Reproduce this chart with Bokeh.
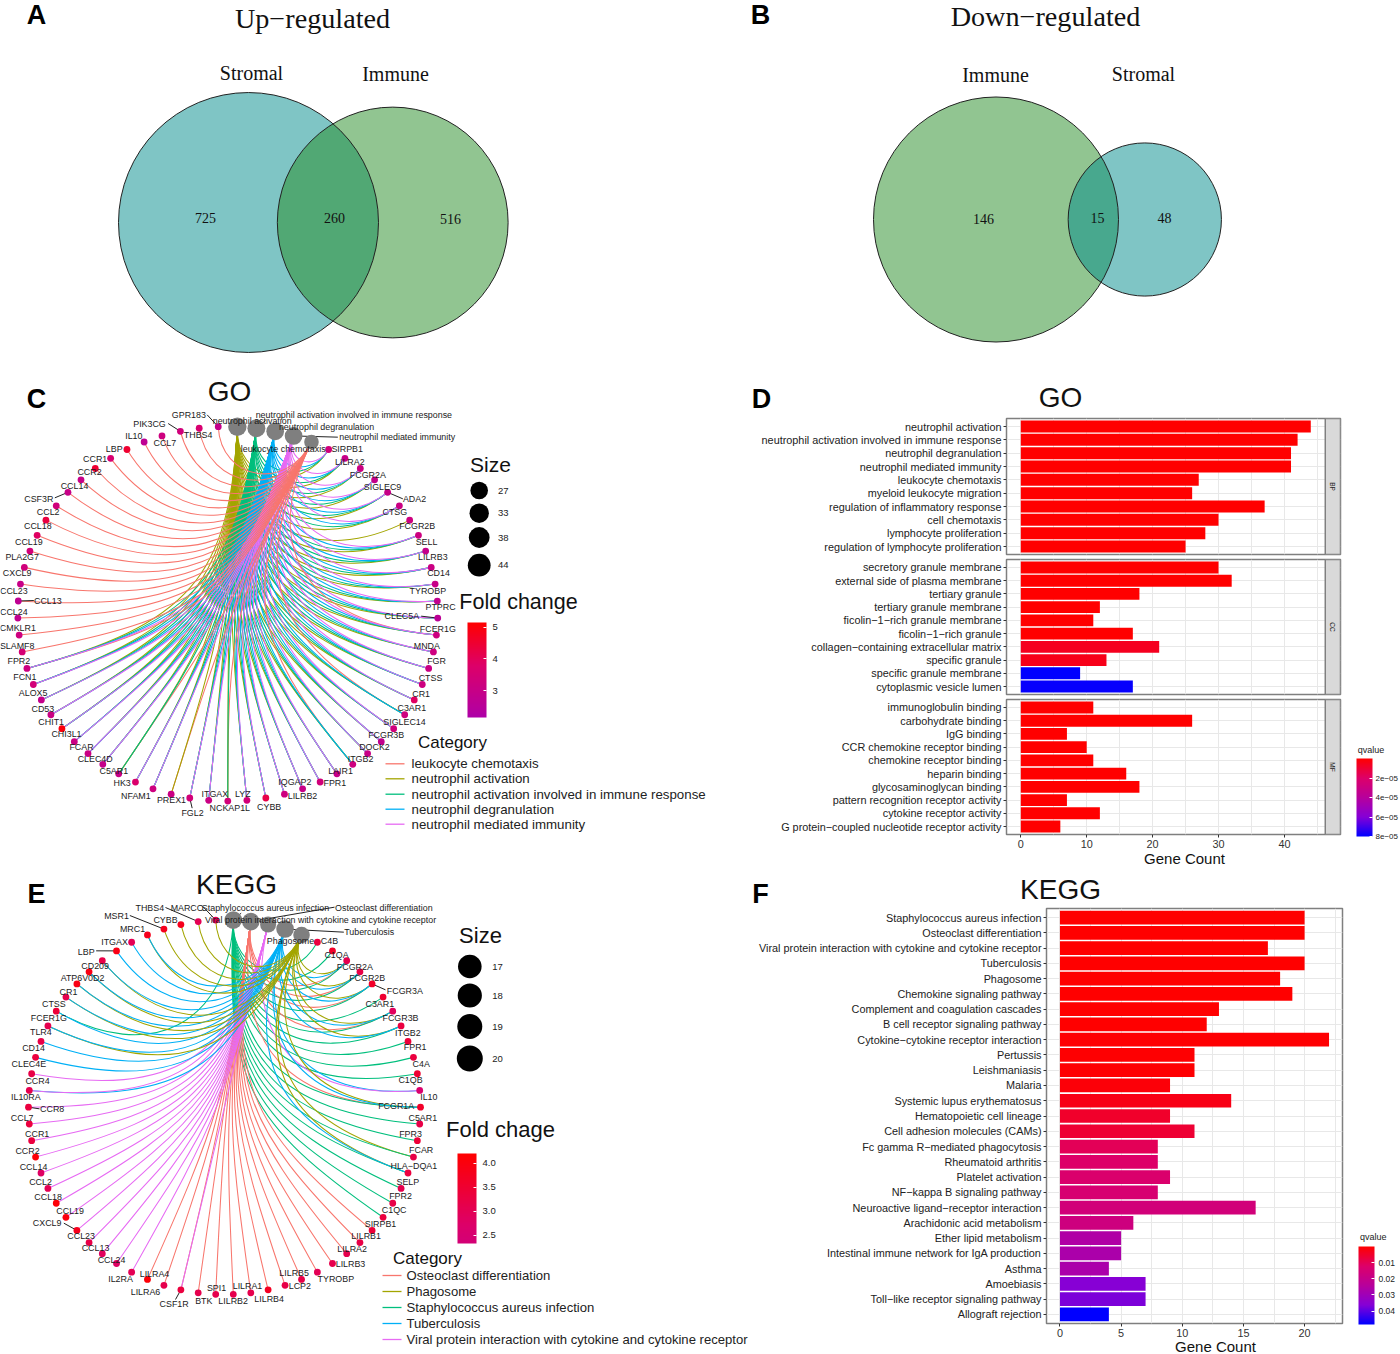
import math
from bokeh.plotting import figure
from bokeh.layouts import column, row
from bokeh.models import (Range1d, FactorRange, LinearColorMapper, ColorBar, FixedTicker, AllLabels,
                          ColumnDataSource, PrintfTickFormatter)
from bokeh.transform import transform
from bokeh.core.properties import value
from bokeh.embed import file_html
from bokeh.resources import INLINE

# ---------------- data ----------------
VENN_A = {"left": "Stromal", "right": "Immune", "only_left": 725, "both": 260, "only_right": 516}
VENN_B = {"left": "Immune", "right": "Stromal", "only_left": 146, "both": 15, "only_right": 48}

GO_CATS = ["neutrophil activation", "neutrophil activation involved in immune response",
           "neutrophil degranulation", "neutrophil mediated immunity", "leukocyte chemotaxis"]
GO_CAT_SIZES = [44, 42, 41, 41, 27]
GO_GENES = ["SIRPB1", "LILRA2", "FCGR2A", "SIGLEC9", "ADA2", "CTSG", "FCGR2B", "SELL", "LILRB3", "CD14",
            "TYROBP", "PTPRC", "CLEC5A", "FCER1G", "MNDA", "FGR", "CTSS", "CR1", "C3AR1", "SIGLEC14",
            "FCGR3B", "DOCK2", "ITGB2", "LAIR1", "FPR1", "IQGAP2", "LILRB2", "CYBB", "LYZ", "NCKAP1L",
            "ITGAX", "FGL2", "PREX1", "NFAM1", "HK3", "C5AR1", "CLEC4D", "FCAR", "CHI3L1", "CHIT1",
            "CD53", "ALOX5", "FCN1", "FPR2", "SLAMF8", "CMKLR1", "CCL24", "CCL13", "CCL23", "CXCL9",
            "PLA2G7", "CCL19", "CCL18", "CCL2", "CSF3R", "CCL14", "CCR2", "CCR1", "LBP", "IL10",
            "CCL7", "PIK3CG", "THBS4", "GPR183"]
GO_FC = [3.3, 3.0, 3.1, 2.9, 3.0, 3.1, 3.2, 3.2, 2.9, 3.1,
         3.0, 2.8, 2.6, 3.2, 3.2, 3.1, 3.2, 3.9, 3.2, 3.3,
         2.8, 3.0, 3.2, 3.0, 3.3, 3.0, 3.2, 4.2, 3.4, 3.4,
         3.1, 3.4, 3.1, 3.2, 3.7, 3.0, 2.9, 3.1, 3.1, 5.0,
         3.1, 2.9, 3.4, 3.2, 3.5, 3.2, 2.8, 2.7, 3.0, 3.3,
         3.4, 3.9, 4.3, 3.3, 3.0, 3.0, 4.5, 3.6, 4.5, 2.7,
         3.2, 3.3, 3.6, 2.9]
GO_LEUKO_ONLY = ["GPR183", "THBS4", "CCL7", "PIK3CG", "IL10", "LBP", "CCR1", "CCR2", "CCL14", "CSF3R",
                 "CCL2", "CCL18", "CCL19", "PLA2G7", "CXCL9", "CCL23", "CCL13", "CCL24", "CMKLR1", "SLAMF8"]
GO_LEUKO_ALSO = ["FPR2", "C5AR1", "C3AR1", "ITGB2", "FCER1G", "PREX1", "NCKAP1L"]
GO_NOT_INVOLVED = ["FCGR2B", "PREX1"]
GO_NOT_DEGRAN = ["FCGR2B", "PREX1", "C5AR1", "NCKAP1L"]
GO_NOT_MEDIATED = ["FCGR2B", "PREX1", "C5AR1", "NCKAP1L", "C3AR1", "ITGB2"]
GO_LEGEND = ["leukocyte chemotaxis", "neutrophil activation", "neutrophil activation involved in immune response",
             "neutrophil degranulation", "neutrophil mediated immunity"]
GO_SIZE_LEGEND = [27, 33, 38, 44]

KEGG_CATS = ["Staphylococcus aureus infection", "Osteoclast differentiation",
             "Viral protein interaction with cytokine and cytokine receptor", "Tuberculosis", "Phagosome"]
KEGG_CAT_SIZES = [20, 20, 17, 20, 18]
KEGG_GENES = ["C4B", "C1QA", "FCGR2A", "FCGR2B", "FCGR3A", "C3AR1", "FCGR3B", "ITGB2", "FPR1", "C4A",
              "C1QB", "IL10", "FCGR1A", "C5AR1", "FPR3", "FCAR", "HLA\u2212DQA1", "SELP", "FPR2", "C1QC",
              "SIRPB1", "LILRB1", "LILRA2", "LILRB3", "TYROBP", "LILRB5", "LCP2", "LILRB4", "LILRA1", "LILRB2",
              "SPI1", "BTK", "CSF1R", "LILRA6", "LILRA4", "IL2RA", "CCL24", "CCL13", "CCL23", "CXCL9",
              "CCL19", "CCL18", "CCL2", "CCL14", "CCR2", "CCR1", "CCL7", "CCR8", "IL10RA", "CCR4",
              "CLEC4E", "CD14", "TLR4", "FCER1G", "CTSS", "CR1", "ATP6V0D2", "CD209", "LBP", "ITGAX",
              "MRC1", "MSR1", "CYBB", "THBS4", "MARCO"]
KEGG_FC = [3.3, 3.6, 3.1, 3.2, 3.6, 3.5, 2.9, 3.3, 3.4, 3.3,
           3.5, 2.6, 3.6, 3.2, 3.4, 3.2, 3.3, 3.1, 3.2, 3.3,
           3.4, 3.2, 3.1, 3.1, 3.0, 3.2, 3.2, 3.7, 3.1, 3.1,
           3.1, 3.1, 3.3, 3.1, 4.1, 3.0, 2.8, 2.9, 3.2, 3.8,
           4.0, 4.1, 3.0, 2.8, 4.1, 3.3, 3.3, 3.3, 3.1, 3.2,
           3.3, 3.2, 3.1, 3.4, 3.1, 3.9, 3.9, 3.2, 3.9, 3.0,
           3.8, 3.8, 3.8, 3.0, 3.0]
KEGG_MEMBERS = {
    "Osteoclast differentiation": ["LILRA4", "LILRA6", "SPI1", "BTK", "LILRB2", "LILRA1", "LILRB4", "LCP2", "LILRB5",
                                   "TYROBP", "LILRB3", "LILRA2", "LILRB1", "SIRPB1", "FCGR2A", "FCGR2B", "FCGR3A",
                                   "FCGR3B", "FCGR1A", "CSF1R"],
    "Phagosome": ["CYBB", "THBS4", "MARCO", "MSR1", "MRC1", "CD209", "ATP6V0D2", "CR1", "CTSS", "TLR4", "FCGR2A",
                  "FCGR2B", "FCGR3A", "FCGR3B", "ITGB2", "HLA\u2212DQA1", "FCAR", "FCGR1A"],
    "Staphylococcus aureus infection": ["C4B", "C1QA", "FCGR2A", "FCGR2B", "FCGR3A", "C3AR1", "FCGR3B", "ITGB2", "FPR1",
                                        "C4A", "C1QB", "FCGR1A", "C5AR1", "FPR3", "FCAR", "HLA\u2212DQA1", "SELP", "FPR2",
                                        "C1QC", "FCER1G"],
    "Tuberculosis": ["LBP", "ITGAX", "CR1", "FCER1G", "CTSS", "CD14", "TLR4", "CLEC4E", "IL10RA", "IL10", "ATP6V0D2",
                     "MRC1", "CD209", "FCGR2A", "FCGR2B", "FCGR3A", "FCGR3B", "ITGB2", "HLA\u2212DQA1", "FCGR1A"],
    "Viral protein interaction with cytokine and cytokine receptor": ["CCR8", "CCR4", "CCL7", "CCR1", "CCR2", "CCL14", "CCL2",
                                        "CCL18", "CCL19", "CXCL9", "CCL23", "CCL13", "CCL24", "IL2RA", "CSF1R", "IL10RA",
                                        "IL10"],
}
KEGG_LEGEND = ["Osteoclast differentiation", "Phagosome", "Staphylococcus aureus infection", "Tuberculosis",
               "Viral protein interaction with cytokine and cytokine receptor"]
KEGG_SIZE_LEGEND = [17, 18, 19, 20]

D_BP = ["neutrophil activation", "neutrophil activation involved in immune response", "neutrophil degranulation",
        "neutrophil mediated immunity", "leukocyte chemotaxis", "myeloid leukocyte migration",
        "regulation of inflammatory response", "cell chemotaxis", "lymphocyte proliferation",
        "regulation of lymphocyte proliferation"]
D_BP_N = [44, 42, 41, 41, 27, 26, 37, 30, 28, 25]
D_BP_Q = [1e-8] * 10
D_CC = ["secretory granule membrane", "external side of plasma membrane", "tertiary granule", "tertiary granule membrane",
        "ficolin\u22121\u2212rich granule membrane", "ficolin\u22121\u2212rich granule",
        "collagen\u2212containing extracellular matrix", "specific granule", "specific granule membrane",
        "cytoplasmic vesicle lumen"]
D_CC_N = [30, 32, 18, 12, 11, 17, 21, 13, 9, 17]
D_CC_Q = [1e-8, 1e-8, 1e-7, 1e-7, 2e-7, 3e-7, 6e-6, 5e-6, 8e-5, 7.9e-5]
D_MF = ["immunoglobulin binding", "carbohydrate binding", "IgG binding", "CCR chemokine receptor binding",
        "chemokine receptor binding", "heparin binding", "glycosaminoglycan binding", "pattern recognition receptor activity",
        "cytokine receptor activity", "G protein\u2212coupled nucleotide receptor activity"]
D_MF_N = [11, 26, 7, 10, 11, 16, 18, 7, 12, 6]
D_MF_Q = [1e-8] * 10

F_NAMES = ["Staphylococcus aureus infection", "Osteoclast differentiation",
           "Viral protein interaction with cytokine and cytokine receptor", "Tuberculosis", "Phagosome",
           "Chemokine signaling pathway", "Complement and coagulation cascades", "B cell receptor signaling pathway",
           "Cytokine\u2212cytokine receptor interaction", "Pertussis", "Leishmaniasis", "Malaria",
           "Systemic lupus erythematosus", "Hematopoietic cell lineage", "Cell adhesion molecules (CAMs)",
           "Fc gamma R\u2212mediated phagocytosis", "Rheumatoid arthritis", "Platelet activation",
           "NF\u2212kappa B signaling pathway", "Neuroactive ligand\u2212receptor interaction",
           "Arachidonic acid metabolism", "Ether lipid metabolism", "Intestinal immune network for IgA production",
           "Asthma", "Amoebiasis", "Toll\u2212like receptor signaling pathway", "Allograft rejection"]
F_N = [20, 20, 17, 20, 18, 19, 13, 12, 22, 11, 11, 9, 14, 9, 11, 8, 8, 9, 8, 16, 6, 5, 5, 4, 7, 7, 4]
F_Q = [1e-5, 1e-5, 1e-5, 1e-5, 1e-5, 1e-5, 5e-5, 1e-4, 2e-4, 3e-4, 3e-4, 1e-3, 2.5e-3, 5e-3, 6e-3, 0.010, 0.012, 0.013,
       0.014, 0.016, 0.017, 0.026, 0.027, 0.027, 0.036, 0.037, 0.0483]

# ---------------- style and placement (reference pixels) ----------------
SANS = "Liberation Sans"
SERIF = "Liberation Serif"
HUE = {"red": "#F8766D", "olive": "#A3A500", "green": "#00BF7D", "blue": "#00B0F6", "pink": "#E76BF3"}
LEG_COL = [HUE["red"], HUE["olive"], HUE["green"], HUE["blue"], HUE["pink"]]
SPLIT = 750
LEG_X = 1345

ANCH = [(0.0, (0, 0, 255)), (0.25, (134, 0, 214)), (0.5, (183, 0, 156)), (0.75, (221, 0, 105)), (1.0, (255, 0, 0))]
def ramp(t):
    for (a, ca), (b, cb) in zip(ANCH, ANCH[1:]):
        if t <= b:
            f = (t - a) / (b - a)
            return "#%02x%02x%02x" % tuple(round(x + (y - x) * f) for x, y in zip(ca, cb))
    return "#ff0000"
PAL = [ramp(i / 255) for i in range(256)]


def pixel_fig(x0, x1, y0, y1, **kw):
    p = figure(width=x1 - x0, height=y1 - y0, x_range=Range1d(x0, x1), y_range=Range1d(y1, y0),
               output_backend="svg", toolbar_location=None, min_border=0, **kw)
    p.axis.visible = False
    p.grid.visible = False
    p.outline_line_color = None
    return p


def put(p, x, y, s, size, align="center", font=SANS, style="normal", color="#111111"):
    p.text(x=[x], y=[y], text=[s], text_font=value(font), text_font_size=f"{size}px", text_align=align,
           text_baseline="middle", text_font_style=style, text_color=color)


def lens_area(r1, r2, d):
    if d >= r1 + r2:
        return 0.0
    if d <= abs(r1 - r2):
        return math.pi * min(r1, r2) ** 2
    a = r1 * r1 * math.acos((d * d + r1 * r1 - r2 * r2) / (2 * d * r1))
    b = r2 * r2 * math.acos((d * d + r2 * r2 - r1 * r1) / (2 * d * r2))
    c = 0.5 * math.sqrt((-d + r1 + r2) * (d + r1 - r2) * (d - r1 + r2) * (d + r1 + r2))
    return a + b - c


def venn(p, v, left_c, cy, r_left, colors):
    n_l = v["only_left"] + v["both"]
    n_r = v["only_right"] + v["both"]
    per = math.pi * r_left ** 2 / n_l
    r_r = r_left * math.sqrt(n_r / n_l)
    lo, hi = abs(r_left - r_r), r_left + r_r
    for _ in range(60):
        m = (lo + hi) / 2
        if lens_area(r_left, r_r, m) > v["both"] * per:
            lo = m
        else:
            hi = m
    d = (lo + hi) / 2
    xs = [left_c, left_c + d]
    rs = [r_left, r_r]
    p.circle(x=xs, y=[cy, cy], radius=rs, fill_color=colors, fill_alpha=0.5, line_color=None)
    p.circle(x=xs, y=[cy, cy], radius=rs, fill_color=None, line_color="#222222", line_width=1.0)
    return xs, rs


# panel A
pA = pixel_fig(0, SPLIT, 0, 375)
venn(pA, VENN_A, 248, 222, 130, ["#008b8b", "#238b23"])
put(pA, 36, 14, "A", 27, style="bold", color="black")
put(pA, 312, 18, "Up\u2212regulated", 28.2, font=SERIF)
put(pA, 251, 72, VENN_A["left"], 20, font=SERIF)
put(pA, 395, 73, VENN_A["right"], 20, font=SERIF)
put(pA, 205, 217, str(VENN_A["only_left"]), 14, font=SERIF)
put(pA, 334, 217, str(VENN_A["both"]), 14, font=SERIF)
put(pA, 450, 218, str(VENN_A["only_right"]), 14, font=SERIF)

# panel B
pB = pixel_fig(SPLIT, 1400, 0, 375)
venn(pB, VENN_B, 995.5, 219, 122.5, ["#238b23", "#008b8b"])
put(pB, 760, 14, "B", 27, style="bold", color="black")
put(pB, 1045, 16, "Down\u2212regulated", 28.2, font=SERIF)
put(pB, 995, 74, VENN_B["left"], 20, font=SERIF)
put(pB, 1143, 73, VENN_B["right"], 20, font=SERIF)
put(pB, 983, 218, str(VENN_B["only_left"]), 14, font=SERIF)
put(pB, 1097, 217, str(VENN_B["both"]), 14, font=SERIF)
put(pB, 1164, 217, str(VENN_B["only_right"]), 14, font=SERIF)


def network(p, cats, genes, fc, edges, cx, cy, rx, ry, mapper, cat_sizes, cat_r, label_zoom, zoom_origin,
            leaders, cat_labels, cat_leaders):
    n = len(cats) + len(genes)
    ang = [(k + 0.5) * 2 * math.pi / n for k in range(n)]
    unit = [(math.sin(a), -math.cos(a)) for a in ang]
    order = {name: i for i, name in enumerate(list(cats) + list(genes))}
    zx, zy = zoom_origin
    def page(zp):
        return zp[0] / 3 + zx, zp[1] / 3 + zy
    def pos(u):
        return cx + rx * u[0], cy + ry * u[1]
    rows = {k: [] for k in ["x0", "y0", "x1", "y1", "cx0", "cy0", "cx1", "cy1", "c"]}
    # edges go in the order of the genes round the ring, so later genes lie on top
    for cat, gene, col in sorted(edges, key=lambda e: order[e[1]]):
        a = unit[order[gene]]
        b = unit[order[cat]]
        dot = max(-1.0, min(1.0, a[0] * b[0] + a[1] * b[1]))
        th = math.acos(dot)
        h = 0.95 * math.sin(th / 2) ** 0.8
        p0, p1 = pos(a), pos(b)
        c0 = pos((a[0] * (1 - h), a[1] * (1 - h)))
        c1 = pos((b[0] * (1 - h), b[1] * (1 - h)))
        for k, v in zip(rows, [p0[0], p0[1], p1[0], p1[1], c0[0], c0[1], c1[0], c1[1], col]):
            rows[k].append(v)
    p.bezier(x0="x0", y0="y0", x1="x1", y1="y1", cx0="cx0", cy0="cy0", cx1="cx1", cy1="cy1",
             line_color="c", line_width=1.05, source=ColumnDataSource(rows))
    cat_xy = [pos(unit[order[c]]) for c in cats]
    gene_xy = [pos(unit[order[g]]) for g in genes]
    # leader lines
    for g, z in leaders.items():
        q = page(z)
        s = gene_xy[genes.index(g)]
        p.line([s[0], q[0]], [s[1], q[1]], line_color="#222222", line_width=1)
    for c, z in cat_leaders.items():
        q = page(z)
        s = cat_xy[cats.index(c)]
        p.line([s[0], q[0]], [s[1], q[1]], line_color="#222222", line_width=1)
    p.scatter(x=[c[0] for c in cat_xy], y=[c[1] for c in cat_xy], size=[2 * cat_r(v) for v in cat_sizes],
              fill_color="#7f7f7f", line_color=None)
    src = ColumnDataSource(dict(x=[g[0] for g in gene_xy], y=[g[1] for g in gene_xy], fc=fc))
    p.scatter(x="x", y="y", size=6.8, fill_color=transform("fc", mapper), line_color=None, source=src)
    for g, z in zip(genes, label_zoom):
        q = page(z)
        put(p, q[0], q[1], g, 8.9, color="#1a1a1a")
    for c, z in cat_labels.items():
        q = page(z)
        put(p, q[0], q[1], c, 8.9, color="#1a1a1a")


def size_legend(p, sizes, xs, ys, rs, lx):
    p.scatter(x=[xs] * len(sizes), y=ys, size=[2 * r for r in rs], fill_color="black", line_color=None)
    for s, y in zip(sizes, ys):
        put(p, lx, y, str(s), 9.5, color="#222222")


def cat_legend(p, names, x0, x1, tx, ys, size):
    for n, c, y in zip(names, LEG_COL, ys):
        p.line([x0, x1], [y, y], line_color=c, line_width=1.3)
        put(p, tx, y, n, size, align="left", color="#222222")


def colorbar(mapper, ticks, w, h, loc, size, standoff, overrides=None, formatter=None):
    kw = dict(major_label_overrides=overrides) if overrides else {}
    if formatter:
        kw["formatter"] = formatter
    return ColorBar(color_mapper=mapper, ticker=FixedTicker(ticks=ticks), width=w, height=h, padding=0, location=loc,
                    major_label_text_font_size=f"{size}px", major_label_text_font=SANS, major_tick_line_color="white",
                    major_tick_in=3, minor_tick_line_color=None, bar_line_color=None, major_label_text_color="#222222",
                    major_label_policy=AllLabels(), label_standoff=standoff, background_fill_alpha=0,
                    border_line_color=None, **kw)


# panel C
pC = pixel_fig(0, SPLIT, 375, 870)
edgesC = []
for g in GO_GENES:
    if g in GO_LEUKO_ONLY or g in GO_LEUKO_ALSO:
        edgesC.append((GO_CATS[4], g, HUE["red"]))
for g in GO_GENES:
    if g in GO_LEUKO_ONLY:
        continue
    edgesC.append((GO_CATS[0], g, HUE["olive"]))
for g in GO_GENES:
    if g not in GO_LEUKO_ONLY and g not in GO_NOT_INVOLVED:
        edgesC.append((GO_CATS[1], g, HUE["green"]))
for g in GO_GENES:
    if g not in GO_LEUKO_ONLY and g not in GO_NOT_DEGRAN:
        edgesC.append((GO_CATS[2], g, HUE["blue"]))
for g in GO_GENES:
    if g not in GO_LEUKO_ONLY and g not in GO_NOT_MEDIATED:
        edgesC.append((GO_CATS[3], g, HUE["pink"]))

mapC = LinearColorMapper(palette=PAL[115:], low=2.15, high=5.15)
LABELS_C = [(1040, 205), (1048, 243), (1102, 282), (1146, 319), (1242, 356), (1183, 394), (1250, 437), (1278, 484),
            (1297, 530), (1314, 578), (1282, 630), (1320, 680), (1204, 707), (1312, 744), (1279, 795), (1308, 842),
            (1290, 891), (1262, 939), (1234, 983), (1212, 1023), (1157, 1063), (1122, 1098), (1080, 1134), (1020, 1170),
            (1003, 1208), (883, 1203), (906, 1245), (806, 1280), (727, 1240), (688, 1282), (643, 1240), (576, 1297),
            (513, 1258), (406, 1247), (365, 1208), (340, 1170), (284, 1134), (243, 1098), (198, 1060), (152, 1023),
            (127, 984), (98, 938), (73, 889), (55, 842), (50, 795), (52, 743), (40, 693), (142, 661), (40, 630),
            (50, 578), (65, 529), (85, 484), (112, 437), (143, 395), (115, 355), (222, 316), (267, 275), (284, 236),
            (341, 204), (400, 167), (493, 188), (447, 129), (593, 164), (565, 103)]
network(pC, GO_CATS, GO_GENES, GO_FC, edgesC, 227.3, 613.3, 210, 187.3, mapC, GO_CAT_SIZES,
        lambda v: 7.3 + (v - 27) / 17 * 1.9, LABELS_C, (0, 380),
        {"GPR183": (620, 103), "PIK3CG": (503, 129), "CSF3R": (163, 352), "ADA2": (1207, 355), "CLEC5A": (1262, 707),
         "CCL13": (100, 660), "FGL2": (575, 1283)},
        {GO_CATS[0]: (755, 122), GO_CATS[1]: (1060, 103), GO_CATS[2]: (978, 140), GO_CATS[3]: (1190, 170),
         GO_CATS[4]: (848, 205)},
        {GO_CATS[1]: (795, 120), GO_CATS[3]: (1012, 170)})
put(pC, 36, 398, "C", 27, style="bold", color="black")
put(pC, 229, 391, "GO", 28)
put(pC, 490, 464, "Size", 21)
size_legend(pC, GO_SIZE_LEGEND, 478.7, [490, 512.7, 537, 564.7], [8.8, 9.7, 10.4, 11.4], 502.7)
put(pC, 518, 601, "Fold change", 21.5)
put(pC, 452, 742, "Category", 17)
cat_legend(pC, GO_LEGEND, 385, 404, 411, [763.3, 778.3, 793.7, 808.7, 823.7], 13.3)
pC.add_layout(colorbar(mapC, [3, 4, 5], 19, 95, (467, 870 - 717), 9.5, 6), "center")


# panel E
pE = pixel_fig(0, SPLIT, 870, 1354)
edgesE = []
for name, col in zip(KEGG_LEGEND, LEG_COL):
    for g in KEGG_GENES:
        if g in KEGG_MEMBERS[name]:
            edgesE.append((name, g, col))
mapE = LinearColorMapper(palette=PAL[175:], low=2.33, high=4.2)
LABELS_E = [(987, 212), (1008, 253), (1063, 290), (1100, 323), (1213, 362), (1138, 400), (1200, 443), (1222, 486),
            (1244, 530), (1262, 580), (1230, 629), (1285, 679), (1187, 705), (1267, 742), (1230, 791), (1262, 838),
            (1240, 887), (1222, 935), (1200, 977), (1181, 1018), (1140, 1060), (1097, 1097), (1055, 1134), (1050, 1180),
            (1006, 1224), (881, 1207), (898, 1247), (806, 1284), (741, 1247), (698, 1292), (648, 1252), (610, 1292),
            (521, 1300), (435, 1263), (462, 1209), (360, 1225), (333, 1169), (285, 1133), (242, 1095), (140, 1058),
            (209, 1020), (143, 978), (120, 935), (99, 889), (81, 840), (110, 789), (65, 742), (155, 716), (76, 679),
            (111, 630), (85, 580), (99, 532), (121, 485), (145, 441), (160, 401), (204, 363), (246, 323), (284, 285),
            (257, 243), (342, 214), (396, 174), (348, 136), (495, 148), (448, 111), (560, 111)]
network(pE, KEGG_CATS, KEGG_GENES, KEGG_FC, edgesE, 224, 1106.7, 196, 187.3, mapE, KEGG_CAT_SIZES,
        lambda v: 8.0 + (v - 17) / 3 * 0.8, LABELS_E, (0, 870),
        {"FCGR3A": (1155, 358), "LBP": (287, 241), "MSR1": (388, 135), "THBS4": (495, 111), "MARCO": (610, 111),
         "CXCL9": (190, 1058), "CCR8": (117, 715), "CSF1R": (525, 1287)},
        {KEGG_CATS[0]: (795, 111), KEGG_CATS[1]: (1150, 111), KEGG_CATS[2]: (960, 149), KEGG_CATS[3]: (1106, 185),
         KEGG_CATS[4]: (870, 212)},
        {KEGG_CATS[0]: (722, 128), KEGG_CATS[1]: (1002, 110), KEGG_CATS[2]: (770, 150), KEGG_CATS[3]: (1030, 185)})
put(pE, 36, 893, "E", 27, style="bold", color="black")
put(pE, 236, 884, "KEGG", 28)
put(pE, 480, 935, "Size", 22)
size_legend(pE, KEGG_SIZE_LEGEND, 469.3, [966, 995, 1026, 1058], [11.8, 12.1, 12.5, 13.0], 497)
put(pE, 500, 1129, "Fold chage", 22)
put(pE, 427, 1258, "Category", 17)
cat_legend(pE, KEGG_LEGEND, 382, 401, 406, [1275, 1291, 1307, 1323, 1339], 13.1)
pE.add_layout(colorbar(mapE, [2.5, 3.0, 3.5, 4.0], 19, 90, (457, 1354 - 1243), 9.5, 6,
                       formatter=PrintfTickFormatter(format="%.1f")), "center")


# bar panels
def bars(names, counts, qs, qmax, x_start, x_end, size, top, left, bottom, right, ticks, minor, strip=None, strip_x=None):
    w = LEG_X - SPLIT
    h = top + size + bottom
    y_rng = FactorRange(factors=list(reversed(names)), range_padding=0.1, range_padding_units="absolute")
    p = figure(width=w, height=h, x_range=Range1d(x_start, x_end), y_range=y_rng, output_backend="svg",
               toolbar_location=None, min_border_left=left, min_border_right=right, min_border_top=top,
               min_border_bottom=bottom)
    mapper = LinearColorMapper(palette=PAL, low=-qmax, high=0)
    p.hbar(y="name", right="n", left=0, height=0.9, fill_color=transform("nq", mapper), line_color=None,
           source=ColumnDataSource(dict(name=names, n=counts, nq=[-q for q in qs])))
    p.xgrid.ticker = FixedTicker(ticks=ticks + minor)
    p.xgrid.grid_line_color = "#e8e8e8"
    p.ygrid.grid_line_color = "#e8e8e8"
    p.outline_line_color = "#7f7f7f"
    p.outline_line_width = 1.5
    p.yaxis.axis_line_color = None
    p.yaxis.major_tick_line_color = "#333333"
    p.yaxis.major_tick_in = 0
    p.yaxis.major_tick_out = 3
    p.yaxis.minor_tick_line_color = None
    p.yaxis.major_label_text_font = SANS
    p.yaxis.major_label_text_font_size = "10.85px"
    p.yaxis.major_label_text_color = "#222222"
    p.yaxis.major_label_standoff = 2
    p.xaxis.ticker = FixedTicker(ticks=ticks)
    p.xaxis.axis_line_color = None
    p.xaxis.major_tick_line_color = "#333333"
    p.xaxis.major_tick_in = 0
    p.xaxis.major_tick_out = 3
    p.xaxis.minor_tick_line_color = None
    p.xaxis.major_label_text_font = SANS
    p.xaxis.major_label_text_font_size = "10.85px"
    p.xaxis.major_label_text_color = "#333333"
    p.xaxis.major_label_standoff = 2
    if strip:
        n = len(names)
        p.quad(left=[strip_x], right=[x_end], bottom=[-0.1], top=[n + 0.1], fill_color="#d9d9d9",
               line_color="#7f7f7f", line_width=1.5)
        p.text(x=[(strip_x + x_end) / 2], y=[n / 2], text=[strip], angle=-math.pi / 2,
               text_font=value(SANS), text_font_size="6.5px", text_align="center", text_baseline="middle",
               text_color="#222222")
    return p, mapper


LEFT_D = 1006 - SPLIT
LEFT_F = 1046 - SPLIT
DX0, DX1 = -2.17, 48.51
DT, DM = [0, 10, 20, 30, 40], [5, 15, 25, 35, 45]

tD = pixel_fig(SPLIT, LEG_X, 375, 417)
put(tD, 761, 398, "D", 27, style="bold", color="black")
put(tD, 1060, 397, "GO", 28)
D1, _ = bars(D_BP, D_BP_N, D_BP_Q, 8e-5, DX0, DX1, 136, 1, LEFT_D, 2, LEG_X - 1340, DT, DM, "BP", 46.2)
D2, _ = bars(D_CC, D_CC_N, D_CC_Q, 8e-5, DX0, DX1, 135, 3, LEFT_D, 3, LEG_X - 1340, DT, DM, "CC", 46.2)
D3, mapD = bars(D_MF, D_MF_N, D_MF_Q, 8e-5, DX0, DX1, 135, 2, LEFT_D, 16, LEG_X - 1340, DT, DM, "MF", 46.2)
D1.xaxis.visible = False
D2.xaxis.visible = False
bD = pixel_fig(SPLIT, LEG_X, 850, 870)
put(bD, 1184, 858, "Gene Count", 15)
lD = pixel_fig(LEG_X, 1400, 375, 870)
put(lD, 1370.6, 749, "qvalue", 9, color="#222222")
lD.add_layout(colorbar(mapD, [-2e-5, -4e-5, -6e-5, -8e-5], 16, 78, (1356 - LEG_X, 870 - 836), 8, 3,
                       {-2e-5: "2e\u221205", -4e-5: "4e\u221205", -6e-5: "6e\u221205", -8e-5: "8e\u221205"}), "center")

tF = pixel_fig(SPLIT, LEG_X, 870, 907)
put(tF, 760, 893, "F", 27, style="bold", color="black")
put(tF, 1060, 889, "KEGG", 28)
F1, mapF = bars(F_NAMES, F_N, F_Q, 0.0483, -1.1, 23.1, 415, 1, LEFT_F, 16, LEG_X - 1342, [0, 5, 10, 15, 20],
                [2.5, 7.5, 12.5, 17.5, 22.5])
bF = pixel_fig(SPLIT, LEG_X, 1336, 1354, background_fill_alpha=0, border_fill_alpha=0)
put(bF, 1215, 1346, "Gene Count", 15)
lF = pixel_fig(LEG_X, 1400, 870, 1354)
put(lF, 1372.7, 1236.7, "qvalue", 9, color="#222222")
lF.add_layout(colorbar(mapF, [-0.01, -0.02, -0.03, -0.04], 16, 78, (1358 - LEG_X, 1354 - 1324), 8.5, 4,
                       {-0.01: "0.01", -0.02: "0.02", -0.03: "0.03", -0.04: "0.04"}), "center")

page = column(row(pA, pB),
              row(pC, column(row(tD), D1, D2, D3, row(bD)), lD),
              row(pE, column(row(tF), F1, row(bF, margin=(-3, 0, 0, 0))), lF))
open("out.html", "w").write(file_html(page, INLINE))
